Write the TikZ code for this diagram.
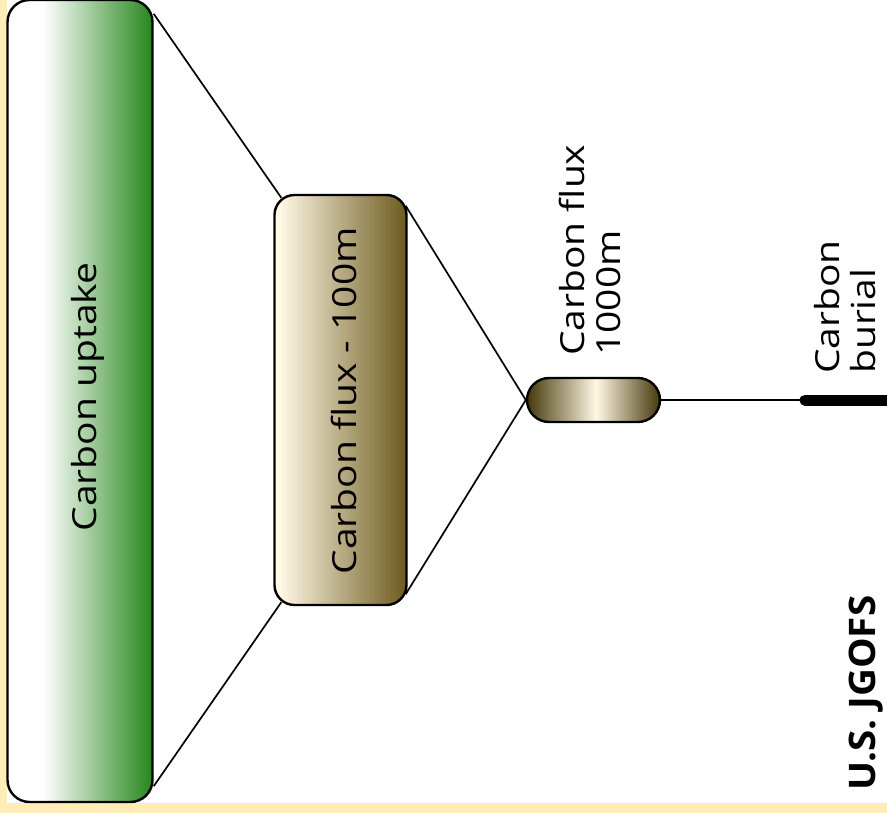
\documentclass[tikz,border=0pt]{standalone}
\usepackage{fontspec}
\setmainfont{Open Sans}
\usetikzlibrary{positioning}

\definecolor{pagecream}{RGB}{255,236,182}
\definecolor{leafgreen}{RGB}{38,134,28}
\definecolor{fluxlight}{RGB}{255,248,228}
\definecolor{fluxdark}{RGB}{108,90,30}
\definecolor{deepflux}{RGB}{68,56,10}

\pgfdeclarehorizontalshading{uptakeshade}{100bp}{color(0bp)=(white); color(37bp)=(white); color(41bp)=(leafgreen!10); color(75bp)=(leafgreen); color(100bp)=(leafgreen)}
\pgfdeclarehorizontalshading{fluxshade}{100bp}{color(0bp)=(fluxlight); color(27bp)=(fluxlight); color(75bp)=(fluxdark); color(100bp)=(fluxdark)}
\pgfdeclarehorizontalshading{deepshade}{100bp}{color(0bp)=(deepflux); color(25bp)=(deepflux); color(51bp)=(fluxlight); color(75bp)=(deepflux); color(100bp)=(deepflux)}

\tikzset{
  box/.style={draw=black,line width=2.4pt},
  tie/.style={draw=black,line width=1.7pt},
  sidetext/.style={rotate=90,yscale=.85,inner sep=0pt,align=left,font=\fontsize{39}{42}\selectfont}
}

\begin{document}
\begin{tikzpicture}[x=1pt,y=-1pt]
\useasboundingbox (0,0) rectangle (887,813);
\fill[pagecream] (0,0) rectangle (887,813);
\fill[white] (7,0) rectangle (887,803);
\clip (0,0) rectangle (887,813);

% the three boxes, from the surface down
\node[box,shade,shading=uptakeshade,rounded corners=22pt,minimum width=145pt,minimum height=802pt] (uptake) at (80,401) {};
\node[box,shade,shading=fluxshade,rounded corners=20pt,minimum width=132pt,minimum height=410pt] (flux100) at (340.5,400) {};
\node[box,shade,shading=deepshade,rounded corners=22pt,minimum width=133pt,minimum height=44pt] (flux1000) at (593.5,400) {};
\coordinate (burial) at (805,400);

\draw[tie] ([shift={(0,15)}]uptake.north east) -- ([shift={(8,4)}]flux100.north west);
\draw[tie] ([shift={(0,-17)}]uptake.south east) -- ([shift={(8,-4)}]flux100.south west);
\draw[tie] ([shift={(-2,12)}]flux100.north east) -- (flux1000.west);
\draw[tie] ([shift={(-2,-12)}]flux100.south east) -- (flux1000.west);
\draw[tie] (flux1000.east) -- (burial);
\draw[line width=11pt,line cap=round] (burial) -- ([xshift=100pt]burial);

\node[sidetext] (uptaketext) at (88,397) {Carbon uptake};
\node[sidetext] (flux100text) at (344,401) {Carbon flux - 100m};
\node[sidetext,anchor=west] (flux1000text) at (590,356) {Carbon flux\\1000m};
\node[sidetext,anchor=west] (burialtext) at (845,374) {Carbon\\burial};
\node[rotate=90,yscale=.95,inner sep=0pt,anchor=west,font=\fontsize{38.5}{44}\selectfont\bfseries] (jgofs) at (866,791) {U.S. JGOFS};
\end{tikzpicture}
\end{document}
